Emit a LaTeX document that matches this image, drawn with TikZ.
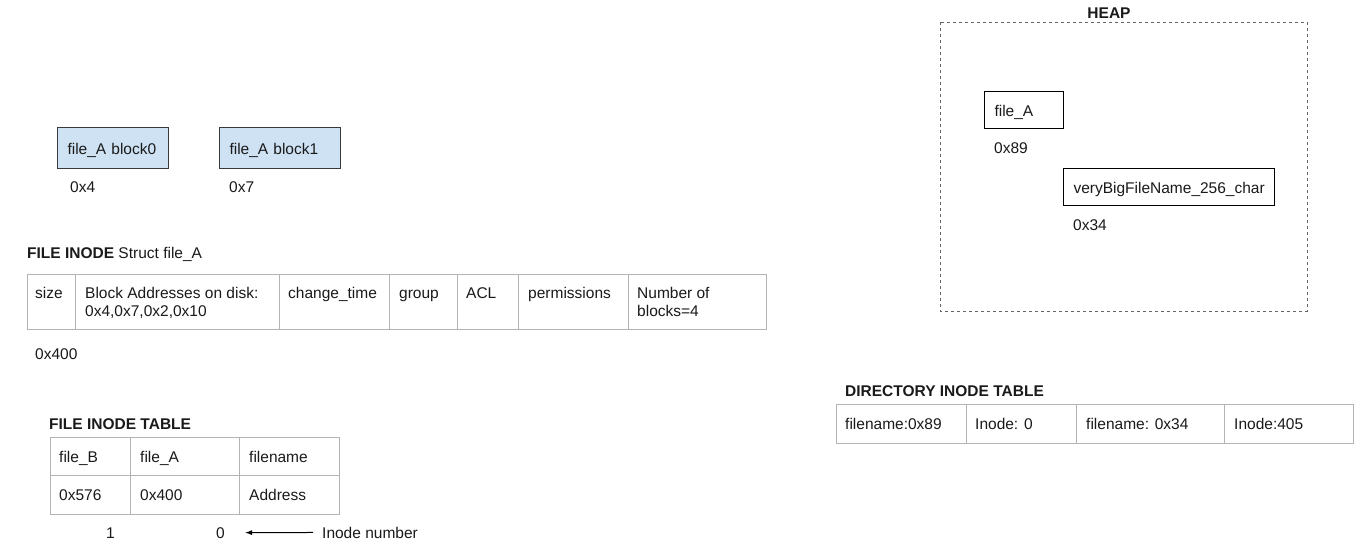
\documentclass[tikz,border=0pt]{standalone}
\usepackage{fontspec}
\setmainfont{Liberation Sans}
\usetikzlibrary{arrows.meta}

\definecolor{blockfill}{HTML}{CFE2F3}
\definecolor{blockline}{HTML}{36393D}
\definecolor{gridline}{HTML}{B3B3B3}
\definecolor{heapline}{HTML}{666666}
\definecolor{inktext}{HTML}{1A1A1A}

\begin{document}
\begin{tikzpicture}[x=1pt, y=-1pt,
    every node/.style={font=\fontsize{15.5}{18}\selectfont, text=inktext},
    txt/.style={anchor=base west, inner sep=0pt},
    heading/.style={txt, font=\fontsize{15.5}{18}\selectfont\bfseries},
    cell/.style={draw=gridline, line width=1pt},
    blockbox/.style={draw=blockline, fill=blockfill, line width=1pt, anchor=north west,
        inner xsep=10pt, inner ysep=0pt, text height=12pt, text depth=0pt,
        align=left, minimum height=41pt},
    heapitem/.style={blockbox, draw=black, fill=white, minimum height=37pt}]

    % Fix the page to the size of the picture
    \useasboundingbox[fill=white] (0,0) rectangle (1364,549);

    % Data blocks of file_A on disk
    \node[blockbox, text width=91pt] (blk0) at (57,127) {file\_A block0};
    \node[blockbox, text width=101pt] (blk1) at (219,127) {file\_A block1};
    \node[txt] (blk0addr) at (70,192) {0x4};
    \node[txt] (blk1addr) at (229,192) {0x7};

    % The file inode struct
    \node[heading] (structhdr) at (27,258) {FILE INODE \textmd{Struct file\_A}};
    \draw[cell] (27,274) rectangle (766,329);
    \draw[cell] (75,274) -- (75,329);
    \draw[cell] (279,274) -- (279,329);
    \draw[cell] (389,274) -- (389,329);
    \draw[cell] (457,274) -- (457,329);
    \draw[cell] (518,274) -- (518,329);
    \draw[cell] (628,274) -- (628,329);
    \node[txt] (fsize) at (35,298) {size};
    \node[txt, anchor=north west, align=left] (faddr) at (85,287)
        {Block Addresses on disk:\\0x4,0x7,0x2,0x10};
    \node[txt] (ftime) at (288,298) {change\_time};
    \node[txt] (fgroup) at (399,298) {group};
    \node[txt] (facl) at (466,298) {ACL};
    \node[txt] (fperm) at (528,298) {permissions};
    \node[txt, anchor=north west, align=left] (fcount) at (637,287)
        {Number of\\blocks=4};
    \node[txt] (structaddr) at (35,359) {0x400};

    % The file inode table
    \node[heading] (tablehdr) at (49,429) {FILE INODE TABLE};
    \draw[cell] (50,437) rectangle (339,514);
    \draw[cell] (50,475) -- (339,475);
    \draw[cell] (130,437) -- (130,514);
    \draw[cell] (239,437) -- (239,514);
    \node[txt] (nameB) at (59,462) {file\_B};
    \node[txt] (nameA) at (140,462) {file\_A};
    \node[txt] (namehdr) at (249,462) {filename};
    \node[txt] (addrB) at (59,500) {0x576};
    \node[txt] (addrA) at (140,500) {0x400};
    \node[txt] (addrhdr) at (249,500) {Address};

    % Inode numbers under the table
    \node[txt] (num1) at (106,538) {1};
    \node[txt] (num0) at (216,538) {0};
    \node[txt] (inodelbl) at (322,538) {Inode number};
    \draw[-{Latex[length=7pt,width=5pt]}, line width=1pt, shorten <=9pt, shorten >=20pt]
        (inodelbl.west) -- (num0.east);

    % The directory inode table
    \node[heading] (dirhdr) at (845,396) {DIRECTORY INODE TABLE};
    \draw[cell] (836,404) rectangle (1353,443);
    \draw[cell] (966,404) -- (966,443);
    \draw[cell] (1076,404) -- (1076,443);
    \draw[cell] (1224,404) -- (1224,443);
    \node[txt] (dirname0) at (845,429) {filename:0x89};
    \node[txt] (dirnode0) at (975,429) {Inode: 0};
    \node[txt] (dirname1) at (1086,429) {filename: 0x34};
    \node[txt] (dirnode1) at (1234,429) {Inode:405};

    % The heap with the stored file names
    \node[heading, anchor=base] (heaphdr) at (1109,18) {HEAP};
    \draw[draw=heapline, line width=1pt, dash pattern=on 3pt off 3pt] (940,22) rectangle (1307,311);
    \node[heapitem, text width=59pt] (heapA) at (984,91) {file\_A};
    \node[txt] (heapAaddr) at (994,153) {0x89};
    \node[heapitem, text width=191pt] (heapbig) at (1063,168) {veryBigFileName\_256\_char};
    \node[txt] (heapbigaddr) at (1073,230) {0x34};

\end{tikzpicture}
\end{document}
